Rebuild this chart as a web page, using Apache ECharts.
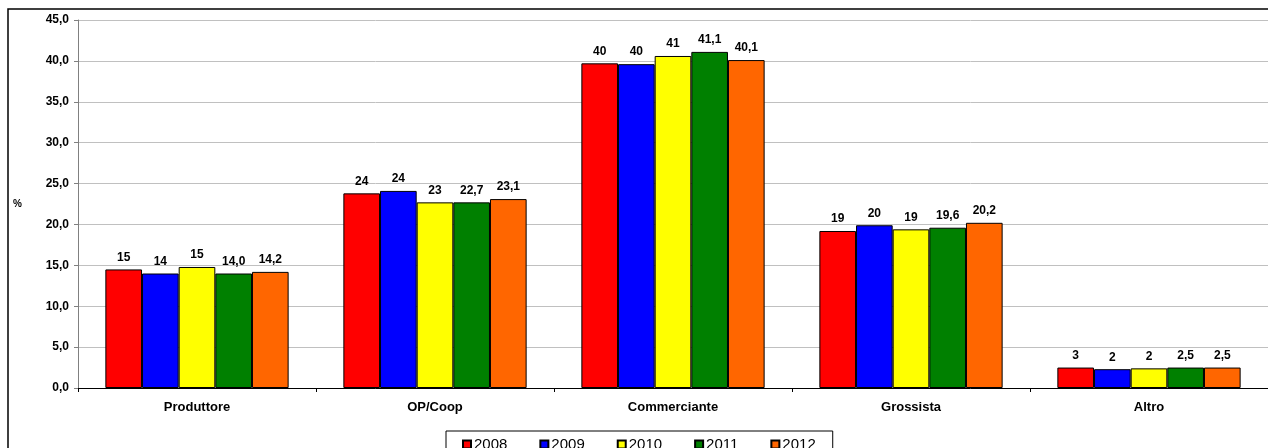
<!DOCTYPE html>
<html lang="it">
<head>
    <meta charset="UTF-8"/>
    <title>Canali di vendita</title>
    <script src="https://cdn.jsdelivr.net/npm/echarts@6/dist/echarts.min.js"></script>
    <style>
        html, body {
            margin: 0;
            padding: 0;
            background: #fff;
        }

        #chart {
            width: 1268px;
            height: 448px;
        }
    </style>
</head>
<body>
<div id="chart"></div>

<script>
    // categorie e anni
    const categories = ['Produttore', 'OP/Coop', 'Commerciante', 'Grossista', 'Altro'];
    const years = ['2008', '2009', '2010', '2011', '2012'];

    // valori % per anno
    const v2008 = [14.5, 23.8, 39.7, 19.2, 2.5];
    const v2009 = [14.0, 24.1, 39.6, 19.9, 2.3];
    const v2010 = [14.8, 22.7, 40.6, 19.4, 2.4];
    const v2011 = [14.0, 22.7, 41.1, 19.6, 2.5];
    const v2012 = [14.2, 23.1, 40.1, 20.2, 2.5];

    // decimali mostrati nelle etichette
    const labelDecimals = [0, 0, 0, 1, 1];
    const colors = ['#FF0000', '#0000FF', '#FFFF00', '#008000', '#FF6600'];

    const yTicks = {min: 0, max: 45, interval: 5};

    const FONT = 'Arial, "Liberation Sans", sans-serif';

    function fmt(v, d) {
        return v.toFixed(d).replace('.', ',');
    }

    const allValues = [v2008, v2009, v2010, v2011, v2012];

    const series = years.map(function (y, i) {
        return {
            name: y,
            type: 'bar',
            data: allValues[i],
            barGap: '0%',
            barCategoryGap: '23%',
            itemStyle: {color: colors[i], borderColor: '#000', borderWidth: 1},
            label: {
                show: true,
                position: 'top',
                distance: 6,
                color: '#000',
                fontFamily: FONT,
                fontWeight: 'bold',
                fontSize: 12,
                formatter: function (p) {
                    return fmt(p.value, labelDecimals[i]);
                }
            }
        };
    });

    const chart = echarts.init(document.getElementById('chart'));
    chart.setOption({
        animation: false,
        textStyle: {fontFamily: FONT},
        graphic: [{
            type: 'rect',
            shape: {x: 8, y: 9, width: 1400, height: 600},
            style: {fill: 'none', stroke: '#000', lineWidth: 1.5},
            z: -1
        }],
        grid: {left: 78, right: -5, top: 20, bottom: 60, containLabel: false},
        legend: {
            data: years,
            icon: 'rect',
            left: 446,
            top: 431,
            padding: [6, 17, 6, 16],
            itemWidth: 8,
            itemHeight: 8,
            itemGap: 32,
            borderColor: '#000',
            borderWidth: 1,
            textStyle: {fontFamily: FONT, fontSize: 15, color: '#000', padding: [0, 0, 0, -2]}
        },
        xAxis: {
            type: 'category',
            data: categories,
            axisLine: {lineStyle: {color: '#000', width: 1}},
            axisTick: {show: true, length: 4, lineStyle: {color: '#000'}},
            axisLabel: {
                color: '#000',
                fontFamily: FONT,
                fontWeight: 'bold',
                fontSize: 13,
                margin: 13
            }
        },
        yAxis: {
            type: 'value',
            min: yTicks.min,
            max: yTicks.max,
            interval: yTicks.interval,
            name: '%',
            nameLocation: 'middle',
            nameGap: 56,
            nameRotate: 0,
            nameTextStyle: {color: '#000', fontWeight: 'bold', fontSize: 10, fontFamily: FONT},
            axisLine: {show: true, lineStyle: {color: '#808080'}},
            axisTick: {show: true, length: 4, lineStyle: {color: '#808080'}},
            splitLine: {lineStyle: {color: '#C0C0C0', width: 1}},
            axisLabel: {
                color: '#000',
                fontFamily: FONT,
                fontWeight: 'bold',
                fontSize: 12,
                margin: 9,
                formatter: function (v) {
                    return fmt(v, 1);
                }
            }
        },
        series: series
    });
</script>
</body>
</html>
